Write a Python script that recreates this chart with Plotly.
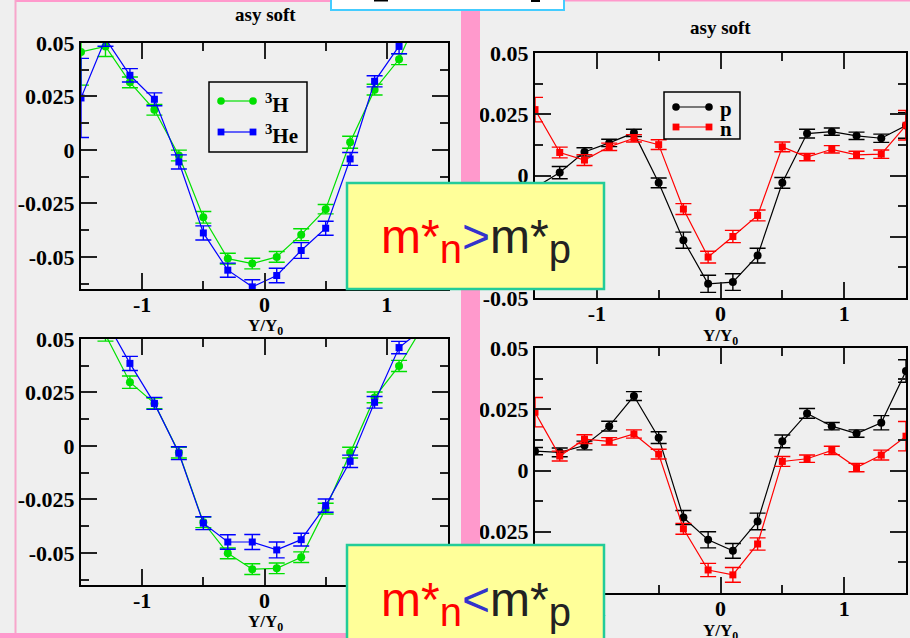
import plotly.graph_objects as go

# ---------------------------------------------------------------- data
# rapidity bins (Y/Y0)
x_left = [-1.5, -1.3, -1.1, -0.9, -0.7, -0.5, -0.3, -0.1, 0.1, 0.3, 0.5, 0.7, 0.9, 1.1, 1.3]
x_right = [-1.5, -1.3, -1.1, -0.9, -0.7, -0.5, -0.3, -0.1, 0.1, 0.3, 0.5, 0.7, 0.9, 1.1, 1.3, 1.5]

# upper-left: 3H / 3He
tl_h3 = [0.0458, 0.0484, 0.0316, 0.0188, -0.0026, -0.0315, -0.0508, -0.0531, -0.0500,
         -0.0396, -0.0277, 0.0036, 0.0282, 0.0424, 0.0680]
tl_h3_err = [0.0155, 0.0047, 0.0025, 0.0025, 0.0025, 0.0027, 0.0025, 0.0025, 0.0025,
             0.0028, 0.0022, 0.0028, 0.0025, 0.0025, 0.0030]
tl_he3 = [0.0243, 0.0520, 0.0349, 0.0237, -0.0056, -0.0388, -0.0562, -0.0640, -0.0587,
          -0.0470, -0.0366, -0.0042, 0.0321, 0.0484, 0.0650]
tl_he3_err = [0.0185, 0.0035, 0.0031, 0.0030, 0.0033, 0.0033, 0.0033, 0.0033, 0.0034,
              0.0037, 0.0033, 0.0030, 0.0026, 0.0034, 0.0035]

# lower-left: 3H / 3He
bl_h3 = [0.0680, 0.0520, 0.0298, 0.0199, -0.0031, -0.0357, -0.0502, -0.0576, -0.0572,
         -0.0520, -0.0293, -0.0031, 0.0227, 0.0374, 0.0564]
bl_h3_err = [0.0030, 0.0030, 0.0029, 0.0025, 0.0025, 0.0025, 0.0025, 0.0025, 0.0025,
             0.0025, 0.0025, 0.0025, 0.0025, 0.0026, 0.0030]
bl_he3 = [0.0720, 0.0590, 0.0386, 0.0199, -0.0034, -0.0361, -0.0449, -0.0449, -0.0486,
          -0.0438, -0.0279, -0.0072, 0.0204, 0.0460, 0.0550]
bl_he3_err = [0.0035, 0.0035, 0.0033, 0.0028, 0.0030, 0.0030, 0.0034, 0.0035, 0.0037,
              0.0030, 0.0031, 0.0029, 0.0027, 0.0029, 0.0035]

# upper-right: p / n
tr_p = [-0.0050, 0.0012, 0.0096, 0.0133, 0.0174, -0.0030, -0.0264, -0.0442, -0.0435,
        -0.0327, -0.0030, 0.0171, 0.0179, 0.0162, 0.0152, 0.0204]
tr_p_err = [0.0020, 0.0025, 0.0017, 0.0015, 0.0015, 0.0020, 0.0033, 0.0035, 0.0034,
            0.0030, 0.0022, 0.0018, 0.0015, 0.0015, 0.0017, 0.0052]
tr_n = [0.0269, 0.0094, 0.0063, 0.0117, 0.0152, 0.0126, -0.0137, -0.0333, -0.0249,
        -0.0163, 0.0117, 0.0075, 0.0107, 0.0084, 0.0087, 0.0205]
tr_n_err = [0.0050, 0.0022, 0.0022, 0.0015, 0.0015, 0.0020, 0.0022, 0.0024, 0.0025,
            0.0022, 0.0020, 0.0015, 0.0015, 0.0015, 0.0017, 0.0060]

# lower-right: p / n
br_p = [0.0079, 0.0074, 0.0102, 0.0181, 0.0304, 0.0134, -0.0192, -0.0283, -0.0328,
        -0.0208, 0.0119, 0.0233, 0.0181, 0.0151, 0.0195, 0.0406]
br_p_err = [0.0015, 0.0018, 0.0018, 0.0020, 0.0018, 0.0024, 0.0029, 0.0033, 0.0030,
            0.0034, 0.0026, 0.0020, 0.0015, 0.0015, 0.0029, 0.0046]
br_n = [0.0238, 0.0059, 0.0128, 0.0119, 0.0149, 0.0067, -0.0238, -0.0406, -0.0426,
        -0.0300, 0.0037, 0.0048, 0.0082, 0.0012, 0.0063, 0.0140]
br_n_err = [0.0060, 0.0020, 0.0018, 0.0015, 0.0017, 0.0020, 0.0022, 0.0027, 0.0030,
            0.0025, 0.0020, 0.0015, 0.0017, 0.0017, 0.0020, 0.0060]

y_tickvals = [-0.05, -0.025, 0, 0.025, 0.05]
y_ticktext = ["-0.05", "-0.025", "0", "0.025", "0.05"]
x_tickvals = [-1, 0, 1]
x_ticktext = ["-1", "0", "1"]

# ---------------------------------------------------------------- styling helpers
W, H = 910, 638
BG = "#efefef"
PINK = "#ff99cc"
SERIF = "Liberation Serif, Times New Roman, serif"
SANS = "Liberation Sans, Arial, sans-serif"
GREEN, BLUE, RED, BLACK = "#00e000", "#0000ff", "#ff0000", "#000000"


def px(x):
    return x / W


def py(y):
    return 1 - y / H


fig = go.Figure()


def series(xs, ys, errs, color, symbol, size, xa, ya):
    fig.add_trace(go.Scatter(
        x=xs, y=ys, mode="lines+markers", xaxis=xa, yaxis=ya, showlegend=False,
        line=dict(color=color, width=1.2),
        marker=dict(color=color, symbol=symbol, size=size),
        error_y=dict(type="data", array=errs, color=color, thickness=1.4, width=8),
        cliponaxis=True,
    ))


series(x_left, tl_h3, tl_h3_err, GREEN, "circle", 8, "x", "y")
series(x_left, tl_he3, tl_he3_err, BLUE, "square", 7, "x", "y")
series(x_right, tr_p, tr_p_err, BLACK, "circle", 8, "x2", "y2")
series(x_right, tr_n, tr_n_err, RED, "square", 7, "x2", "y2")
series(x_left, bl_h3, bl_h3_err, GREEN, "circle", 8, "x3", "y3")
series(x_left, bl_he3, bl_he3_err, BLUE, "square", 7, "x3", "y3")
series(x_right, br_p, br_p_err, BLACK, "circle", 8, "x4", "y4")
series(x_right, br_n, br_n_err, RED, "square", 7, "x4", "y4")

tick_font = dict(family=SERIF, size=22, color="black", weight="bold")


def xaxis(x0, x1, anchor):
    return dict(
        domain=[px(x0), px(x1)], range=[-1.5, 1.5], anchor=anchor,
        tickvals=x_tickvals, ticktext=x_ticktext, tickfont=tick_font,
        ticks="inside", ticklen=16, tickwidth=1.5, tickcolor="#222",
        minor=dict(ticks="inside", ticklen=8, tickwidth=1.5, tickcolor="#222",
                   tickvals=[-0.5, 0.5]),
        showline=True, linewidth=2, linecolor="black", mirror="allticks",
        showgrid=False, zeroline=False, ticklabelstandoff=-5, automargin=False,
    )


def yaxis(y_top, y_bot, lo, anchor):
    return dict(
        domain=[py(y_bot), py(y_top)], range=[lo, 0.05], anchor=anchor,
        tickvals=y_tickvals, ticktext=y_ticktext, tickfont=tick_font,
        ticks="inside", ticklen=16, tickwidth=1.5, tickcolor="#222",
        minor=dict(ticks="inside", ticklen=8, tickwidth=1.5, tickcolor="#222",
                   tickvals=[-0.0625, -0.0375, -0.0125, 0.0125, 0.0375]),
        showline=True, linewidth=2, linecolor="black", mirror="allticks",
        showgrid=False, zeroline=False, ticklabelstandoff=0, automargin=False,
    )


fig.update_layout(
    width=W, height=H,
    margin=dict(l=0, r=0, t=0, b=0, pad=0, autoexpand=False),
    paper_bgcolor=BG, plot_bgcolor=BG, showlegend=False,
    xaxis=xaxis(81, 448, "y"), yaxis=yaxis(43, 289, -0.065, "x"),
    xaxis2=xaxis(535, 906, "y2"), yaxis2=yaxis(53, 298, -0.05, "x2"),
    xaxis3=xaxis(81, 448, "y3"), yaxis3=yaxis(339, 585, -0.065, "x3"),
    xaxis4=xaxis(535, 906, "y4"), yaxis4=yaxis(348, 593, -0.05, "x4"),
)

shapes = []
annotations = []


def rect(x0, y0, x1, y1, fill, line_color=None, lw=0):
    shapes.append(dict(
        type="rect", xref="paper", yref="paper", layer="above",
        x0=px(x0), x1=px(x1), y0=py(y1), y1=py(y0), fillcolor=fill,
        line=dict(color=line_color or fill, width=lw),
    ))


def label(x, y, text, size, xanchor="center", yanchor="middle", family=SERIF, color="black"):
    annotations.append(dict(
        xref="paper", yref="paper", x=px(x), y=py(y), text=text, showarrow=False,
        xanchor=xanchor, yanchor=yanchor,
        font=dict(family=family, size=size, color=color, weight="bold"),
    ))


# slide decorations
rect(15, 0, 331, 2, PINK)
rect(14.5, 0, 16.5, 634, "#f7a6cb")
rect(0, 633, 347, 638, PINK)
rect(564, 0, 910, 1.6, PINK)
rect(461, 10, 480, 638, PINK)
rect(331, -4, 564, 10, "white", "#44ccff", 2)
rect(374, 0, 388, 1.5, "black")
rect(531, 0, 540, 2, "black")

# panel titles
label(265, 15, "asy soft", 19)
label(720, 27, "asy soft", 19)
for cx, cy in [(265, 327), (720, 337), (265, 623), (720, 632)]:
    label(cx, cy, "Y/Y<sub>0</sub>", 17)


def legend_box(x0, y0, x1, y1, rows):
    rect(x0, y0, x1, y1, BG, "black", 1.5)
    for (lx0, lx1, ly, color, sym, tx, text) in rows:
        shapes.append(dict(type="line", xref="paper", yref="paper", layer="above",
                           x0=px(lx0), x1=px(lx1), y0=py(ly), y1=py(ly),
                           line=dict(color=color, width=1.2)))
        r = 3.8 if sym == "circle" else 3.4
        for cx in (lx0, lx1):
            shapes.append(dict(type="circle" if sym == "circle" else "rect",
                               xref="paper", yref="paper", layer="above",
                               x0=px(cx - r), x1=px(cx + r), y0=py(ly + r), y1=py(ly - r),
                               fillcolor=color, line=dict(color=color, width=0)))
        label(tx, ly + 2, text, 21, xanchor="left")


legend_box(209, 82, 307, 152, [
    (221, 253, 101, GREEN, "circle", 263, "<sup>3</sup>H"),
    (221, 253, 132, BLUE, "square", 263, "<sup>3</sup>He"),
])
legend_box(664, 92, 740, 139, [
    (676, 709, 107, BLACK, "circle", 718, "p"),
    (676, 709, 127, RED, "square", 718, "n"),
])

# effective-mass boxes
rect(347, 183, 604, 289, "#ffff99", "#22cc99", 2.5)
rect(347, 545, 604, 651, "#ffff99", "#22cc99", 2.5)


def mass_text(op, color_op):
    return ('<span style="color:#ff0000">m*<sub><span style="font-size:40px">n</span></sub></span>'
            f'<span style="color:{color_op}">{op}</span>'
            '<span style="color:#222222">m*<sub><span style="font-size:40px">p</span></sub></span>')


for cy, op in [(241, "&gt;"), (603, "&lt;")]:
    annotations.append(dict(
        xref="paper", yref="paper", x=px(476), y=py(cy), showarrow=False,
        xanchor="center", yanchor="middle", text=mass_text(op, "#3333cc"),
        font=dict(family=SANS, size=48, color="#222222"),
    ))

fig.update_layout(shapes=shapes, annotations=annotations)
fig.write_html("out.html")
